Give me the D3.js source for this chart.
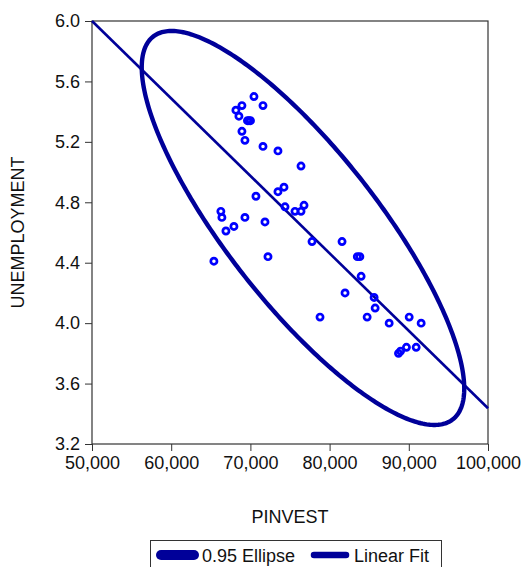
<!DOCTYPE html>
<html>
<head>
<meta charset="utf-8">
<script src="https://cdn.jsdelivr.net/npm/d3@7"></script>
<style>
  body { margin: 0; background: #fff; }
  svg text { font-family: "Liberation Sans", Arial, sans-serif; fill: #111; }
</style>
</head>
<body>
<div id="chart"></div>
<script>
'use strict';

// PINVEST vs UNEMPLOYMENT observations
const pinvest = [
  70450, 68930, 71590, 68170, 68550, 69630, 69820, 70010, 68930, 69310,
  71590, 73480, 76390, 74240, 73480, 70700, 74370, 75630, 76390, 76770,
  66270, 66400, 69310, 71840, 67920, 66910, 65390, 72220, 77780, 81570,
  83500, 83820, 83980, 81950, 85620, 85750, 78790, 84740, 87520, 90050,
  91560, 89700, 90930, 88700, 88960
];
const unemployment = [
  5.50, 5.44, 5.44, 5.41, 5.37, 5.34, 5.34, 5.34, 5.27, 5.21,
  5.17, 5.14, 5.04, 4.90, 4.87, 4.84, 4.77, 4.74, 4.74, 4.78,
  4.74, 4.70, 4.70, 4.67, 4.64, 4.61, 4.41, 4.44, 4.54, 4.54,
  4.44, 4.44, 4.31, 4.20, 4.17, 4.10, 4.04, 4.04, 4.00, 4.04,
  4.00, 3.84, 3.84, 3.80, 3.815
];

// 0.95 confidence ellipse: centre, half extents along each axis, correlation
const ellipseCenter = [76640, 4.63];
const ellipseRadius = [20360, 1.304];
const ellipseCorr = -0.815;

// linear fit evaluated at the ends of the x axis
const fitX = [50000, 100000];
const fitY = [6.0, 3.437];

const xTicks = [50000, 60000, 70000, 80000, 90000, 100000];
const yTicks = [3.2, 3.6, 4.0, 4.4, 4.8, 5.2, 5.6, 6.0];

const legendLabels = ['0.95 Ellipse', 'Linear Fit'];

const width = 524, height = 567;
const margin = { top: 21, right: 36, bottom: 123, left: 92 };

const svg = d3.select('#chart').append('svg')
  .attr('width', width)
  .attr('height', height);

const x = d3.scaleLinear().domain([50000, 100000]).range([margin.left, width - margin.right]);
const y = d3.scaleLinear().domain([3.2, 6.0]).range([height - margin.bottom, margin.top]);

const navy = '#000099';
const frameColor = '#333';

// axes
const yAxis = d3.axisLeft(y).tickValues(yTicks).tickFormat(d3.format('.1f')).tickSize(7).tickPadding(5);
const xAxis = d3.axisBottom(x).tickValues(xTicks).tickFormat(d3.format(',')).tickSize(7).tickPadding(5);

const gy = svg.append('g')
  .attr('transform', 'translate(' + margin.left + ',0)')
  .call(yAxis);
const gx = svg.append('g')
  .attr('transform', 'translate(0,' + (height - margin.bottom) + ')')
  .call(xAxis);

[gx, gy].forEach(g => {
  g.select('.domain').remove();
  g.selectAll('line').attr('stroke', frameColor);
  g.selectAll('text').attr('font-size', 18).style('fill', '#111');
});

// frame
svg.append('rect')
  .attr('x', x(50000)).attr('y', y(6.0))
  .attr('width', x(100000) - x(50000))
  .attr('height', y(3.2) - y(6.0))
  .attr('fill', 'none')
  .attr('stroke', frameColor)
  .attr('stroke-width', 1.2);

// axis titles
svg.append('text')
  .attr('x', (x(50000) + x(100000)) / 2)
  .attr('y', 523)
  .attr('text-anchor', 'middle')
  .attr('font-size', 18)
  .text('PINVEST');

svg.append('text')
  .attr('transform', 'translate(24,' + (y(4.6)) + ') rotate(-90)')
  .attr('text-anchor', 'middle')
  .attr('font-size', 18)
  .text('UNEMPLOYMENT');

// ellipse traced parametrically
const ellipsePts = d3.range(0, 2 * Math.PI, Math.PI / 180).map(t => [
  ellipseCenter[0] + ellipseRadius[0] * Math.cos(t),
  ellipseCenter[1] + ellipseRadius[1] * (ellipseCorr * Math.cos(t) + Math.sqrt(1 - ellipseCorr * ellipseCorr) * Math.sin(t))
]);

const line = d3.line().x(d => x(d[0])).y(d => y(d[1]));

svg.append('path')
  .attr('d', line.curve(d3.curveLinearClosed)(ellipsePts))
  .attr('fill', 'none')
  .attr('stroke', navy)
  .attr('stroke-width', 4.4);

svg.append('path')
  .attr('d', d3.line().x(d => x(d[0])).y(d => y(d[1]))(fitX.map((v, i) => [v, fitY[i]])))
  .attr('fill', 'none')
  .attr('stroke', navy)
  .attr('stroke-width', 2.6);

// observations
svg.append('g').selectAll('circle')
  .data(pinvest)
  .enter().append('circle')
  .attr('cx', d => x(d))
  .attr('cy', (d, i) => y(unemployment[i]))
  .attr('r', 3.1)
  .attr('fill', 'none')
  .attr('stroke', '#0000ff')
  .attr('stroke-width', 2.7);

// legend
const legend = svg.append('g');
legend.append('rect')
  .attr('x', 150.5).attr('y', 540.5)
  .attr('width', 291).attr('height', 34)
  .attr('fill', '#fff')
  .attr('stroke', frameColor);

const swatches = [
  { x1: 161, x2: 194, w: 10, tx: 202 },
  { x1: 314, x2: 346, w: 6.5, tx: 354 }
];
swatches.forEach((s, i) => {
  legend.append('line')
    .attr('x1', s.x1).attr('x2', s.x2)
    .attr('y1', 555).attr('y2', 555)
    .attr('stroke', navy)
    .attr('stroke-width', s.w)
    .attr('stroke-linecap', 'round');
  legend.append('text')
    .attr('x', s.tx).attr('y', 561.5)
    .attr('font-size', 18)
    .text(legendLabels[i]);
});
</script>
</body>
</html>
